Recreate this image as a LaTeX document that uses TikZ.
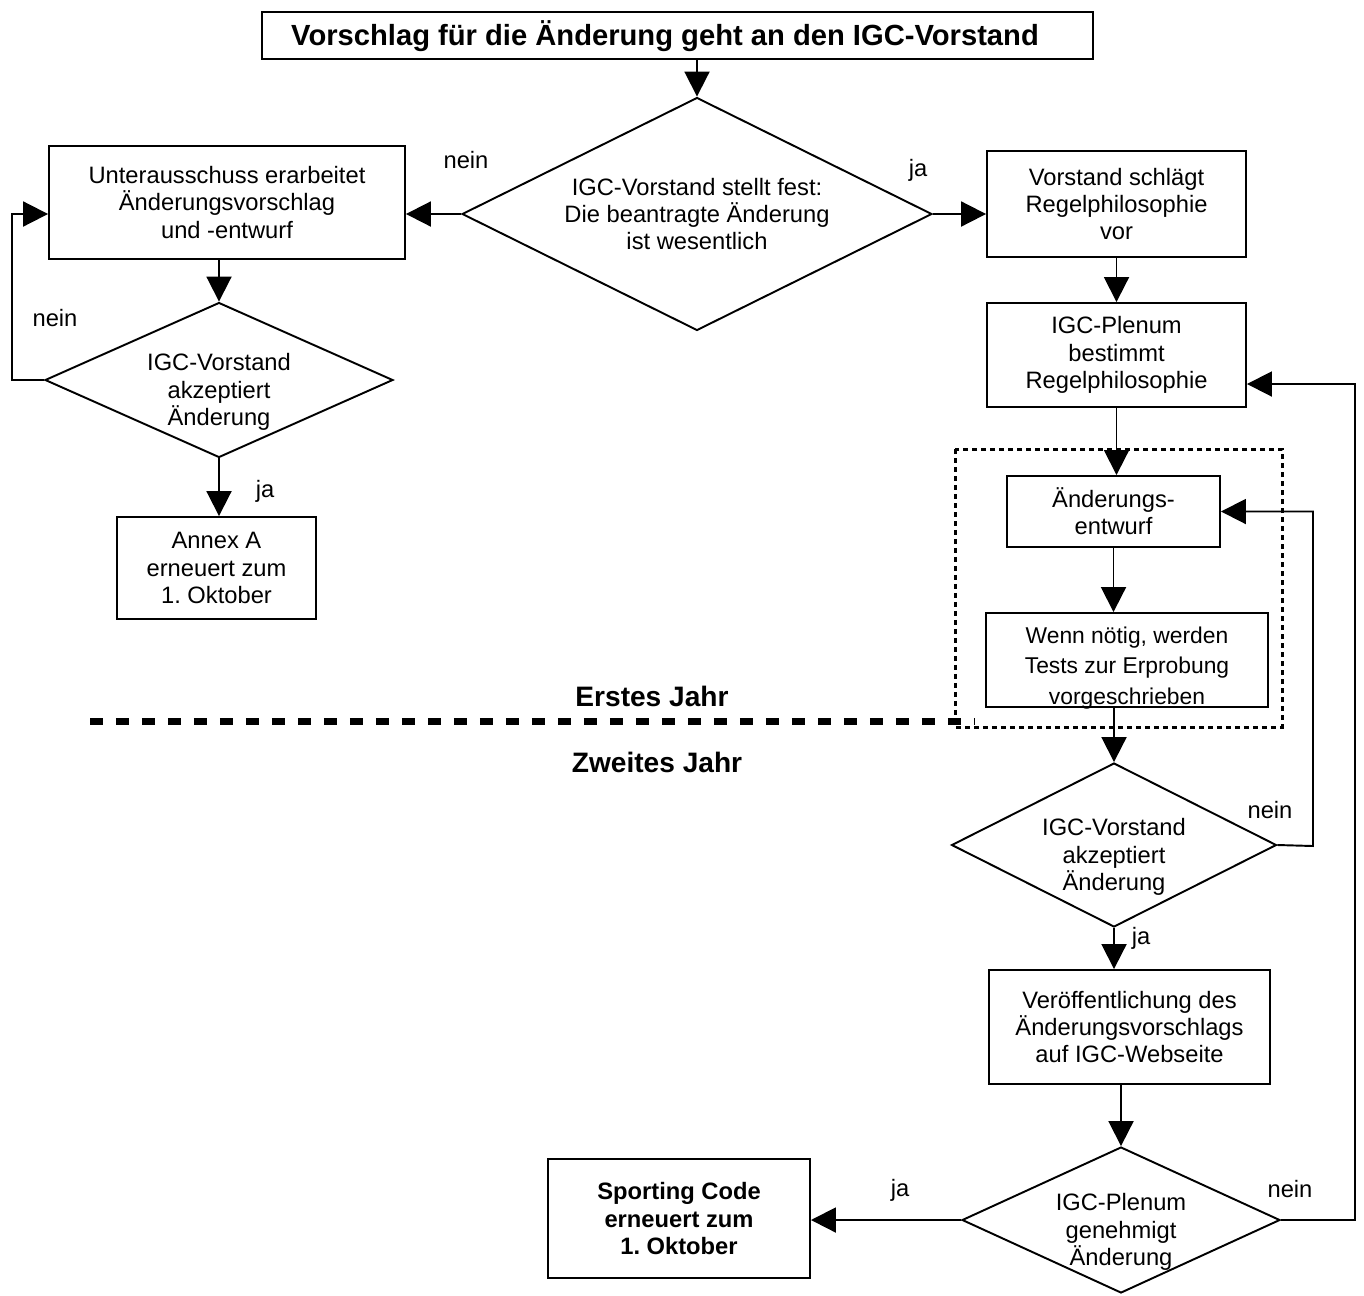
\documentclass[tikz,border=0pt]{standalone}
\usepackage{fontspec}
\setmainfont{Liberation Sans}
\usetikzlibrary{shapes.geometric}
\usetikzlibrary{arrows.meta}
\frenchspacing

\begin{document}
\begin{tikzpicture}[
    x=0.02cm, y=-0.02cm,
    font=\fontsize{13.5}{15.5}\selectfont,
    a/.style={
        line width=1.1pt,
        color=black,
    },
    l/.style={
        a,-{Triangle[length=0.5cm,width=0.5cm]}
    },
    m/.style={
        draw, line width=1.1pt, align=center
    },
    dm/.style={
        m, shape=diamond, inner sep=0pt
    },
    t/.style={
        align=center
    },
    e/.style={
        font=\fontsize{13.5}{15.5}\selectfont
    },
    yr/.style={
        font=\fontsize{16}{18}\selectfont\bfseries
    }
]

    \useasboundingbox (0,0) rectangle (1364,1295);

    \node [m, minimum width=16.62cm, minimum height=0.94cm] (title) at (677.5, 35.5) {};
    \node [t, font=\fontsize{16.6}{18}\selectfont\bfseries] (titlet) at (665, 36) {Vorschlag für die Änderung geht an den IGC-Vorstand};

    \node [dm, minimum width=9.4cm,  minimum height=4.66cm] (d1) at ( 697,  214) {};
    \node [dm, minimum width=6.96cm, minimum height=3.1cm ] (d2) at ( 219,  380) {};
    \node [dm, minimum width=6.5cm,  minimum height=3.28cm] (d3) at (1114,  845) {};
    \node [dm, minimum width=6.36cm, minimum height=2.92cm] (d4) at (1121, 1220) {};
    \node [t] (d1t) at ( 697,  214) {IGC-Vorstand stellt fest:\\Die beantragte Änderung\\ist wesentlich};
    \node [t] (d2t) at ( 219,  392) {IGC-Vorstand\\akzeptiert\\Änderung};
    \node [t] (d3t) at (1114,  857) {IGC-Vorstand\\akzeptiert\\Änderung};
    \node [t] (d4t) at (1121, 1232) {IGC-Plenum\\genehmigt\\Änderung};

    \node [m, minimum width=7.12cm, minimum height=2.26cm] (unter) at ( 227,  202.5) {Unterausschuss erarbeitet\\Änderungsvorschlag\\und -entwurf};
    \node [m, minimum width=3.98cm, minimum height=2.04cm] (annex) at ( 216.5, 568) {Annex A\\erneuert zum\\1. Oktober};
    \node [m, minimum width=5.18cm, minimum height=2.12cm] (vorst) at (1116.5, 204) {Vorstand schlägt\\Regelphilosophie\\vor};
    \node [m, minimum width=5.18cm, minimum height=2.08cm] (plen)  at (1116.5, 355) {IGC-Plenum\\bestimmt\\Regelphilosophie};
    \node [m, minimum width=4.26cm, minimum height=1.42cm] (entw)  at (1113.5, 511.5) {Änderungs-\\entwurf};
    \node [m, minimum width=5.64cm, minimum height=1.88cm] (wenn)  at (1127,  660) {};
    \node [t, font=\fontsize{13}{17.5}\selectfont] (wennt) at (1127, 668) {Wenn nötig, werden\\Tests zur Erprobung\\vorgeschrieben};
    \node [m, minimum width=5.62cm, minimum height=2.28cm] (veroe) at (1129.5, 1027) {Veröffentlichung des\\Änderungsvorschlags\\auf IGC-Webseite};
    \node [m, minimum width=5.24cm, minimum height=2.38cm, font=\fontsize{13.5}{15.5}\selectfont\bfseries]
        (sport) at ( 679, 1218.5) {Sporting Code\\erneuert zum\\1. Oktober};

    % Rahmen erstes Jahr
    \draw [line width=1.7pt, dash pattern=on 0.1cm off 0.08cm] (955,449) rectangle (1282,727);
    \draw [line width=4pt, dash pattern=on 0.26cm off 0.26cm] (90,721) -- (975,721);
    \node [yr] (jahr1) at (652, 696) {Erstes Jahr};
    \node [yr] (jahr2) at (657, 762) {Zweites Jahr};

    \coordinate (lp) at (12, 380);
    \coordinate (rp) at (1313, 846);
    \coordinate (fp) at (1355, 1220);
    \coordinate (fq) at (1355, 384);

    \draw (title.south -| d1.north) -- (d1.north) [l];
    \draw (d1.west) -- (d1.west -| unter.east) [l];
    \draw (d1.east) -- (d1.east -| vorst.west) [l];
    \draw (unter.south -| d2.north) -- (d2.north) [l];
    \draw (d2.west) -- (lp) |- (unter.west |- d1.west) [l];
    \draw (d2.south) -- (d2.south |- annex.north) [l];
    \draw (vorst.south) -- (plen.north) [l];
    \draw (plen.south) -- (plen.south |- entw.north) [l];
    \draw (entw.south) -- (entw.south |- wenn.north) [l];
    \draw (d3.north |- wenn.south) -- (d3.north) [l];
    \draw (d3.east) -- (rp) |- (entw.east) [l];
    \draw (d3.south) -- (d3.south |- veroe.north) [l];
    \draw (d4.north |- veroe.south) -- (d4.north) [l];
    \draw (d4.west) -- (d4.west -| sport.east) [l];
    \draw (d4.east) -- (fp) -- (fq) -- (fq -| plen.east) [l];

    \node [e] (n1) at ( 466,  160) {nein};
    \node [e] (j1) at ( 918,  170) {ja};
    \node [e] (n2) at (  55,  318) {nein};
    \node [e] (j2) at ( 265,  491) {ja};
    \node [e] (n3) at (1270,  810) {nein};
    \node [e] (j3) at (1141,  938) {ja};
    \node [e] (j4) at ( 900, 1190) {ja};
    \node [e] (n4) at (1290, 1189) {nein};

\end{tikzpicture}
\end{document}
